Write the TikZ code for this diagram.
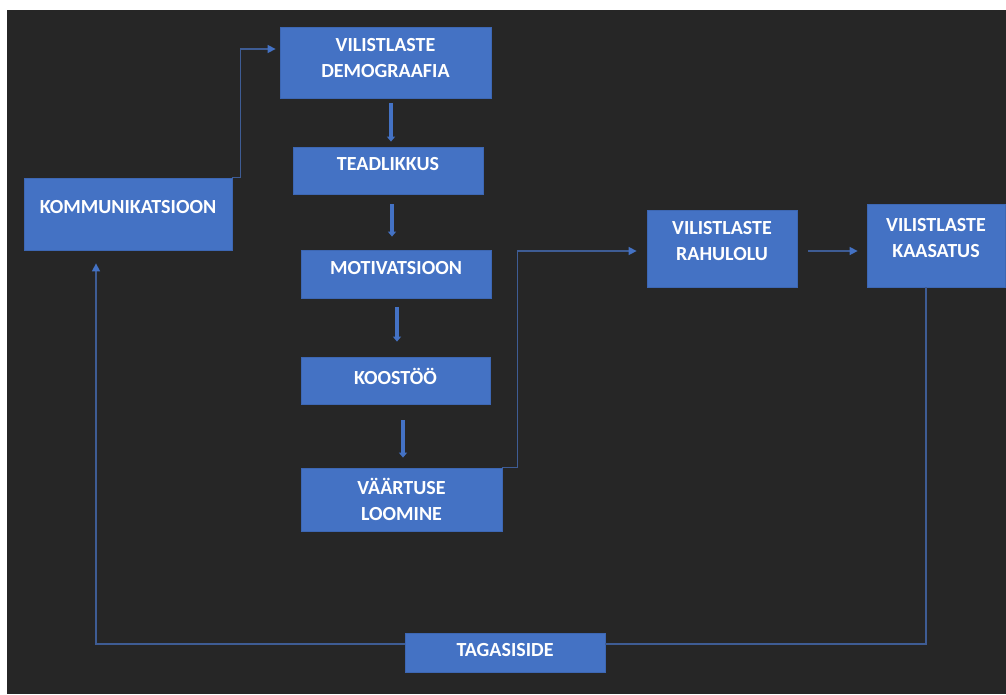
\documentclass[tikz,border=0pt]{standalone}
\usepackage{fontspec}
\setmainfont{Carlito}
\usetikzlibrary{arrows.meta,calc}
\definecolor{bg}{HTML}{262626}
\definecolor{boxblue}{HTML}{4472C4}
\definecolor{boxedge}{HTML}{3D67B3}
\definecolor{conn}{RGB}{62,92,148}
\tikzset{
  box/.style={draw=boxedge, line width=0.8pt, fill=boxblue, inner sep=0pt},
  txt/.style={text=white, font=\bfseries\fontsize{20}{26}\selectfont, align=center},
  thickarrow/.style={draw=boxblue, line width=3.5pt, -{Triangle[width=8pt,length=5pt]}},
  thin/.style={draw=conn, line width=1.5pt},
  thinarrow/.style={thin, -{Triangle[width=8pt,length=8pt,color=boxblue,fill=boxblue]}},
}
\begin{document}
\begin{tikzpicture}[x=1pt,y=-1pt]
\useasboundingbox (0,0) rectangle (1006,694);
\fill[white] (0,0) rectangle (1006,694);
\fill[bg] (7,10) rectangle (1006,694);

\node[box, minimum width=211pt, minimum height=71pt, label={[txt,yshift=4.5pt]center:VILISTLASTE\\DEMOGRAAFIA}] (demo) at (385.5,62.5) {};
\node[box, minimum width=190pt, minimum height=47pt, label={[txt,yshift=6pt]center:TEADLIKKUS}] (tead) at (388,170.5) {};
\node[box, minimum width=190pt, minimum height=48pt, label={[txt,yshift=5.5pt]center:MOTIVATSIOON}] (mot) at (396,274) {};
\node[box, minimum width=189pt, minimum height=47pt, label={[txt,yshift=4pt]center:KOOSTÖÖ}] (koo) at (395.5,380.5) {};
\node[box, minimum width=201pt, minimum height=63pt, label={[txt,yshift=0pt]center:VÄÄRTUSE\\LOOMINE}] (vaa) at (401.5,499.5) {};
\node[box, minimum width=208pt, minimum height=72pt, label={[txt,yshift=7pt]center:KOMMUNIKATSIOON}] (kom) at (128,214) {};
\node[box, minimum width=150pt, minimum height=77pt, label={[txt,yshift=7.5pt]center:VILISTLASTE\\RAHULOLU}] (rah) at (722,248.5) {};
\node[box, minimum width=138pt, minimum height=83pt, label={[txt,yshift=7.5pt]center:VILISTLASTE\\KAASATUS}] (kaa) at (936,245.5) {};
\node[box, minimum width=200pt, minimum height=39pt, label={[txt,yshift=3pt]center:TAGASISIDE}] (tag) at (505,652.5) {};

% thick vertical arrows
\draw[thickarrow] ([xshift=5.5pt,yshift=-5pt]demo.south) -- ([xshift=3pt,yshift=5pt]tead.north);
\draw[thickarrow] ([xshift=4pt,yshift=-10pt]tead.south) -- ([xshift=-4pt,yshift=13pt]mot.north);
\draw[thickarrow] ([xshift=1pt,yshift=-9pt]mot.south) -- ([xshift=1.5pt,yshift=15pt]koo.north);
\draw[thickarrow] ([xshift=7.5pt,yshift=-16pt]koo.south) -- ([xshift=1.5pt,yshift=10pt]vaa.north);

% thin connectors
\draw[thinarrow, shorten >=4pt] (kom.north east) -- ++(8,0) |- ([yshift=13.5pt]demo.west);
\draw[thinarrow, shorten >=10pt] (vaa.north east) -- ++(15,0) |- ([yshift=-2.5pt]rah.west);
\draw[thinarrow, shorten >=9pt] ([xshift=11pt,yshift=-2.5pt]rah.east) coordinate (r1) -- (r1 -| kaa.west);
\draw[thin] ([xshift=-10pt]kaa.south) |- ([yshift=8.5pt]tag.east);
\draw[thinarrow, shorten >=13pt] ([yshift=8.5pt]tag.west) -| ([xshift=-32pt]kom.south);
\end{tikzpicture}
\end{document}
